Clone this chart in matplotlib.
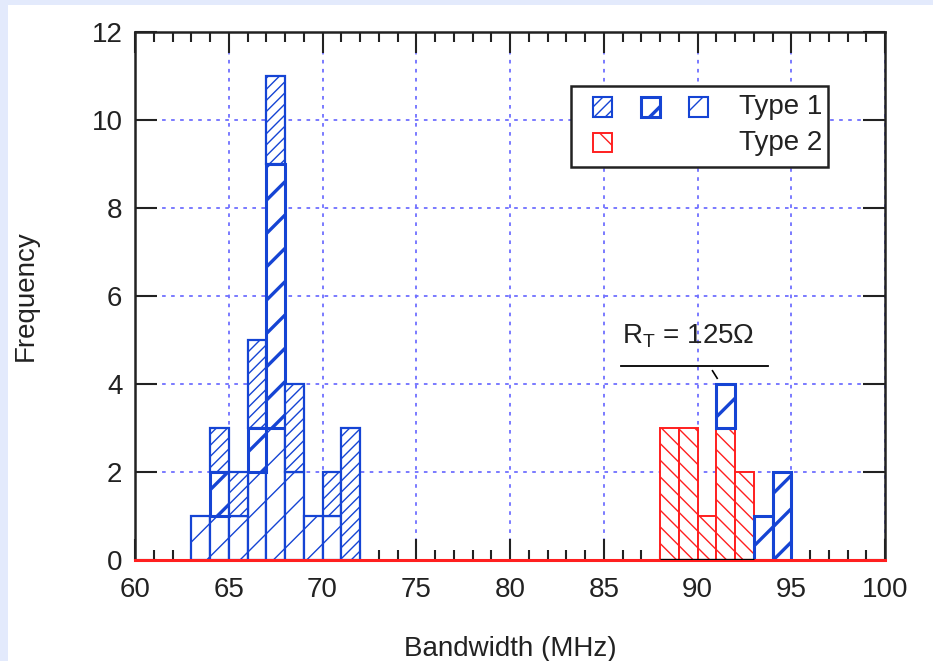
"""
Bandwidth histogram, Type 1 vs Type 2 (stacked, hatched)
"""

import numpy as np
import matplotlib.pyplot as plt
from matplotlib.patches import Rectangle

plt.rcParams['font.family'] = ['Liberation Sans', 'DejaVu Sans']

# --- data: 1 MHz bins, value = count ---
bins1 = [63, 64, 65, 66, 67, 68, 69, 70, 71]
t1_dense = [0, 1, 1, 2, 2, 2, 0, 1, 3]     # top layer
t1_thick = [0, 1, 0, 1, 6, 0, 0, 0, 0]     # middle layer
t1_sparse = [1, 1, 1, 2, 3, 2, 1, 1, 0]    # bottom layer

bins2 = [88, 89, 90, 91, 92]
t2 = [3, 3, 1, 3, 2]

bins3 = [91, 93, 94]
t1_thick_hi = [1, 1, 2]
t1_thick_hi_bottom = [3, 0, 0]

BLUE = '#1544d4'
RED = '#ff1f1f'
GRID = '#6f6fff'


def hbar(ax, x, h, bottom, color, hatch, hlw, lw=1.6):
	bars = ax.bar(x, h, width=1.0, bottom=bottom, align='edge', facecolor='white',
		edgecolor=color, hatch=hatch, linewidth=lw, zorder=3)
	for b in bars:
		if hasattr(b, 'set_hatch_linewidth'):
			b.set_hatch_linewidth(hlw)
	return bars


fig = plt.figure(figsize=(9.33, 6.61), dpi=100, facecolor='#e3eafc')
fig.patches.append(Rectangle((8 / 933, 0), 1, 656 / 661, transform=fig.transFigure,
	facecolor='white', edgecolor='none', zorder=-10))

ax = fig.add_axes([135 / 933, 101 / 661, 750 / 933, 528 / 661])
ax.set_facecolor('none')

s = np.array(t1_sparse)
t = np.array(t1_thick)
d = np.array(t1_dense)
m = s > 0
hbar(ax, np.array(bins1)[m], s[m], 0, BLUE, '/', 1.0)
m = t > 0
hbar(ax, np.array(bins1)[m], t[m], s[m], BLUE, '/', 2.4, lw=2.2)
m = d > 0
hbar(ax, np.array(bins1)[m], d[m], (s + t)[m], BLUE, '///', 1.0)

hbar(ax, bins2, t2, 0, RED, '\\\\', 1.0, lw=1.4)
hbar(ax, bins3, t1_thick_hi, t1_thick_hi_bottom, BLUE, '/', 2.4, lw=2.2)

# axis line at zero
ax.axhline(0, color=RED, lw=2.2, zorder=4, clip_on=False)
ax.hlines(0, bins2[0], bins2[-1] + 1, color='black', lw=2.4, zorder=5)

ax.set_xlim(60, 100)
ax.set_ylim(0, 12)
ax.set_xticks(np.arange(60, 101, 5))
ax.set_xticks(np.arange(60, 101, 1), minor=True)
ax.set_yticks(np.arange(0, 13, 2))
ax.grid(True, which='major', color=GRID, linestyle=(0, (2, 3)), linewidth=1.3, zorder=1)
ax.set_axisbelow(True)

ax.tick_params(which='both', direction='in', top=True, right=True, width=1.5, colors='#222222',
	labelsize=20, labelcolor='#222222')
ax.tick_params(axis='x', which='major', length=15, pad=12)
ax.tick_params(axis='x', which='minor', length=7)
ax.tick_params(axis='y', which='major', length=16, pad=9)
for sp in ax.spines.values():
	sp.set_linewidth(1.8)
	sp.set_color('#222222')
ax.spines['bottom'].set_color(RED)

ax.set_xlabel('Bandwidth (MHz)', fontsize=20, color='#222222', labelpad=24)
ax.set_ylabel('Frequency', fontsize=20, color='#222222', labelpad=38)

# annotation
ax.text(86.0, 4.93, 'R$_\\mathregular{T}$ = 125Ω', fontsize=20, color='#222222', va='baseline')
ax.plot([85.9, 93.75], [4.42, 4.42], color='black', lw=1.3)
ax.plot([90.8, 91.05], [4.3, 4.13], color='black', lw=1.2)

# legend box (drawn by hand to get three swatches on one row)
ax.add_patch(Rectangle((0.5813, 0.745), 0.343, 0.153, transform=ax.transAxes,
	facecolor='white', edgecolor='#222222', lw=1.8, zorder=6))
sw = 19 / 750
sh = 19 / 528
row1 = 1 - (107 - 32) / 528 - sh / 2
row2 = 1 - (143 - 32) / 528 - sh / 2
for xp, hatch, hlw, lw in [(593, '///', 1.0, 1.5), (641, '/', 2.4, 2.2), (689, '/', 1.0, 1.5)]:
	p = Rectangle(((xp - 135) / 750, row1), sw, sh, transform=ax.transAxes, facecolor='white',
		edgecolor=BLUE, hatch=hatch, lw=lw, zorder=7)
	if hasattr(p, 'set_hatch_linewidth'):
		p.set_hatch_linewidth(hlw)
	ax.add_patch(p)
p = Rectangle(((593 - 135) / 750, row2), sw, sh, transform=ax.transAxes, facecolor='white',
	edgecolor=RED, hatch='\\', lw=1.4, zorder=7)
ax.add_patch(p)
ax.text((822 - 135) / 750, row1 + sh / 2, 'Type 1', transform=ax.transAxes, fontsize=20,
	ha='right', va='center', color='#222222', zorder=8)
ax.text((822 - 135) / 750, row2 + sh / 2, 'Type 2', transform=ax.transAxes, fontsize=20,
	ha='right', va='center', color='#222222', zorder=8)

plt.savefig('out.png', dpi=100, facecolor=fig.get_facecolor())
